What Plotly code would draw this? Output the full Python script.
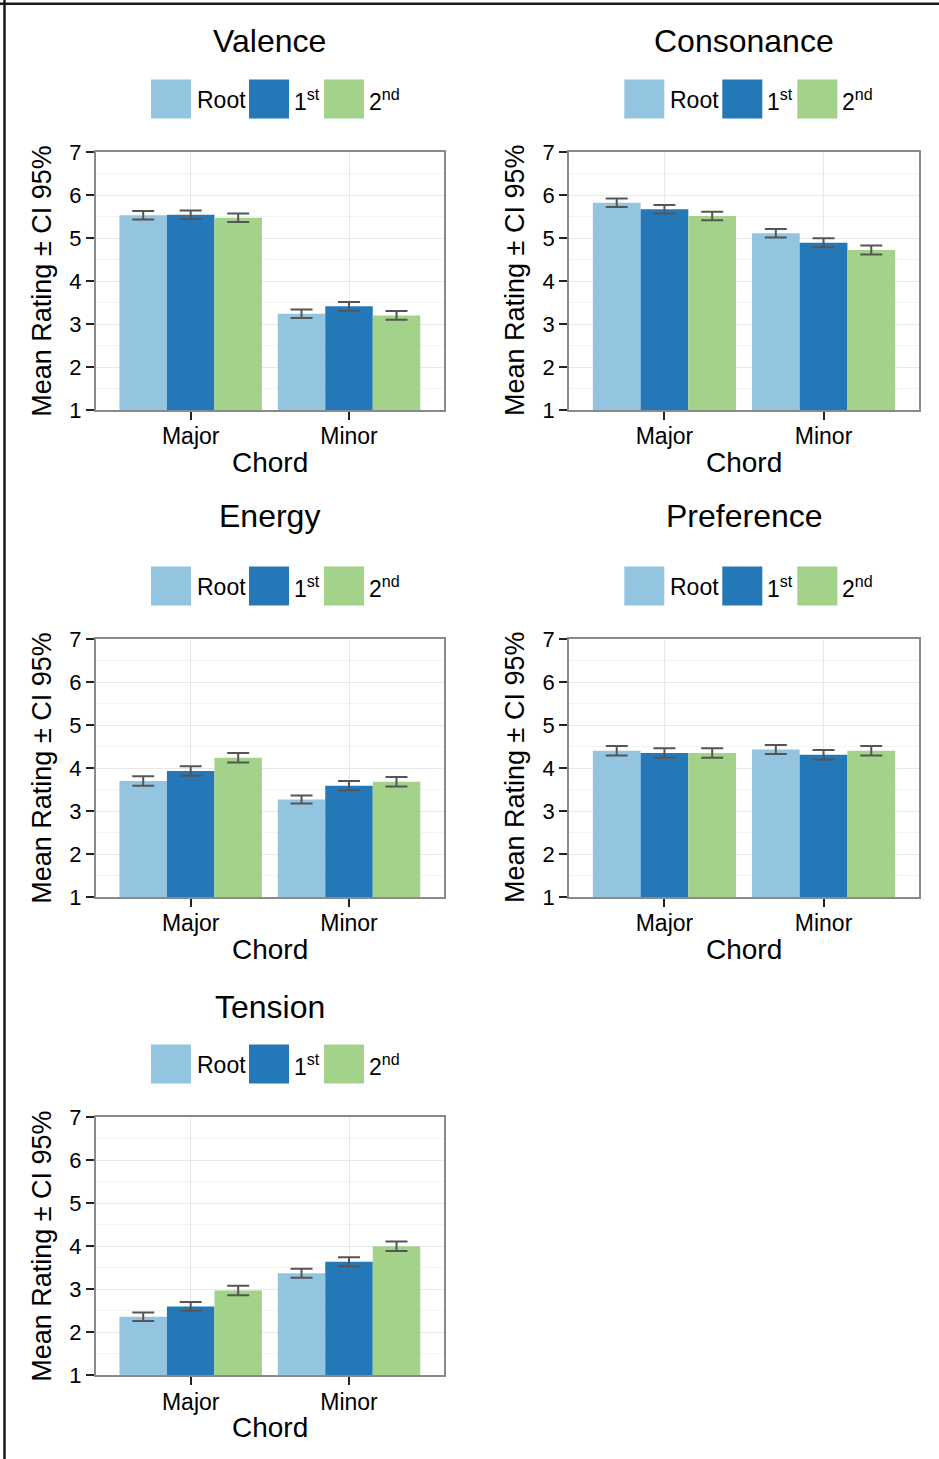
import plotly.graph_objects as go

W, H = 939, 1459

# ---------------- data ----------------
categories = ["Major", "Minor"]
inversion_names = ["Root", "1st", "2nd"]
inversion_labels = ["Root", "1<sup>st</sup>", "2<sup>nd</sup>"]
panel_titles = ["Valence", "Consonance", "Energy", "Preference", "Tension"]

# means per inversion [Root, 1st, 2nd], each [Major, Minor]
valence_mean = [[5.53, 3.24], [5.54, 3.41], [5.47, 3.20]]
valence_ci = [[0.10, 0.10], [0.10, 0.10], [0.10, 0.10]]
consonance_mean = [[5.82, 5.11], [5.67, 4.89], [5.51, 4.72]]
consonance_ci = [[0.10, 0.10], [0.10, 0.105], [0.10, 0.105]]
energy_mean = [[3.70, 3.27], [3.93, 3.59], [4.24, 3.68]]
energy_ci = [[0.11, 0.093], [0.11, 0.105], [0.11, 0.11]]
preference_mean = [[4.40, 4.43], [4.35, 4.31], [4.35, 4.40]]
preference_ci = [[0.11, 0.105], [0.11, 0.11], [0.11, 0.11]]
tension_mean = [[2.36, 3.37], [2.60, 3.64], [2.97, 4.00]]
tension_ci = [[0.10, 0.105], [0.10, 0.105], [0.11, 0.11]]

y_ticks = [1, 2, 3, 4, 5, 6, 7]

means = [valence_mean, consonance_mean, energy_mean, preference_mean, tension_mean]
cis = [valence_ci, consonance_ci, energy_ci, preference_ci, tension_ci]

# ---------------- styling / layout ----------------
colors = ["#94C5E0", "#2478B8", "#A3D28B"]
FONT = "Liberation Sans, Arial, Helvetica, sans-serif"

# panel plot-area boxes in pixels: (left, right, top, bottom)
LEFT_A, RIGHT_A = 95.7, 444.0
LEFT_B, RIGHT_B = 569.0, 919.0
rows_px = [(152.0, 410.0), (639.0, 897.0), (1117.0, 1375.3)]
boxes = [
    (LEFT_A, RIGHT_A) + rows_px[0],
    (LEFT_B, RIGHT_B) + rows_px[0],
    (LEFT_A, RIGHT_A) + rows_px[1],
    (LEFT_B, RIGHT_B) + rows_px[1],
    (LEFT_A, RIGHT_A) + rows_px[2],
]
title_offsets = [111, 111, 123, 123, 110]


def px_x(x):
    return x / W


def px_y(y):
    return 1 - y / H


fig = go.Figure()
annotations = []
shapes = []

for i in range(5):
    n = "" if i == 0 else str(i + 1)
    xa, ya = "x" + n, "y" + n
    l, r, t, b = boxes[i]
    for k in range(3):
        fig.add_trace(go.Bar(
            x=categories,
            y=means[i][k],
            name=inversion_names[k],
            marker=dict(color=colors[k], line=dict(width=0)),
            error_y=dict(type="data", array=cis[i][k], color="#555555",
                         thickness=2, width=11),
            xaxis=xa, yaxis=ya,
            showlegend=False,
        ))
    fig.update_layout(**{
        "xaxis" + n: dict(
            domain=[px_x(l), px_x(r)], anchor=ya, range=[-0.6, 1.6],
            type="category", showgrid=True, gridcolor="#e8e8e8", gridwidth=1,
            showline=True, linecolor="#8a8a8a", linewidth=1.5, mirror=True,
            ticks="outside", ticklen=8, tickwidth=2, tickcolor="#222222",
            tickfont=dict(family=FONT, size=23, color="#000000"),
            ticklabelstandoff=-3,
            zeroline=False, fixedrange=True, automargin=False,
        ),
        "yaxis" + n: dict(
            domain=[px_y(b), px_y(t)], anchor=xa, range=[1, 7],
            tickvals=y_ticks, showgrid=True, gridcolor="#e8e8e8", gridwidth=1,
            minor=dict(dtick=0.5, tick0=1, showgrid=True, gridcolor="#f4f4f4",
                       gridwidth=1, ticks=""),
            showline=True, linecolor="#8a8a8a", linewidth=1.5, mirror=True,
            ticks="outside", ticklen=8, tickwidth=2, tickcolor="#222222",
            tickfont=dict(family=FONT, size=22, color="#000000"),
            zeroline=False, fixedrange=True, automargin=False,
        ),
    })
    cx = (l + r) / 2
    # panel title
    annotations.append(dict(
        text=panel_titles[i], x=px_x(cx), y=px_y(t - title_offsets[i]),
        xref="paper", yref="paper", xanchor="center", yanchor="middle",
        showarrow=False, font=dict(family=FONT, size=32, color="#000000"),
    ))
    # x-axis title
    annotations.append(dict(
        text="Chord", x=px_x(cx), y=px_y(b + 52),
        xref="paper", yref="paper", xanchor="center", yanchor="middle",
        showarrow=False, font=dict(family=FONT, size=28, color="#000000"),
    ))
    # y-axis title
    annotations.append(dict(
        text="Mean Rating ± CI 95%", x=px_x(l - 54), y=px_y((t + b) / 2),
        xref="paper", yref="paper", xanchor="center", yanchor="middle",
        textangle=-90, showarrow=False,
        font=dict(family=FONT, size=27, color="#000000"),
    ))
    # legend (key boxes + labels)
    leg_cy = t - 53
    offs = l - LEFT_A
    key_x = [151, 249, 324]
    lab_x = [196, 293, 368]
    for k in range(3):
        x0 = key_x[k] + offs
        shapes.append(dict(
            type="rect", xref="paper", yref="paper",
            x0=px_x(x0), x1=px_x(x0 + 40),
            y0=px_y(leg_cy + 19.5), y1=px_y(leg_cy - 19.5),
            fillcolor=colors[k], line=dict(width=0), layer="above",
        ))
        annotations.append(dict(
            text=inversion_labels[k], x=px_x(lab_x[k] + offs - 1), y=px_y(leg_cy + 1),
            xref="paper", yref="paper", xanchor="left", yanchor="middle",
            showarrow=False, font=dict(family=FONT, size=23, color="#000000"),
        ))

# image frame lines (top and left)
shapes.append(dict(type="line", xref="paper", yref="paper",
                   x0=0, x1=1, y0=px_y(3.8), y1=px_y(3.8),
                   line=dict(color="#1a1a1a", width=2.5)))
shapes.append(dict(type="line", xref="paper", yref="paper",
                   x0=px_x(4.5), x1=px_x(4.5), y0=0, y1=1,
                   line=dict(color="#1a1a1a", width=2.5)))

fig.update_layout(
    width=W, height=H,
    margin=dict(l=0, r=0, t=0, b=0, autoexpand=False),
    paper_bgcolor="white", plot_bgcolor="white",
    barmode="group", bargap=0.1, bargroupgap=0,
    annotations=annotations, shapes=shapes,
    showlegend=False,
    font=dict(family=FONT),
)

fig.write_html("out.html")
